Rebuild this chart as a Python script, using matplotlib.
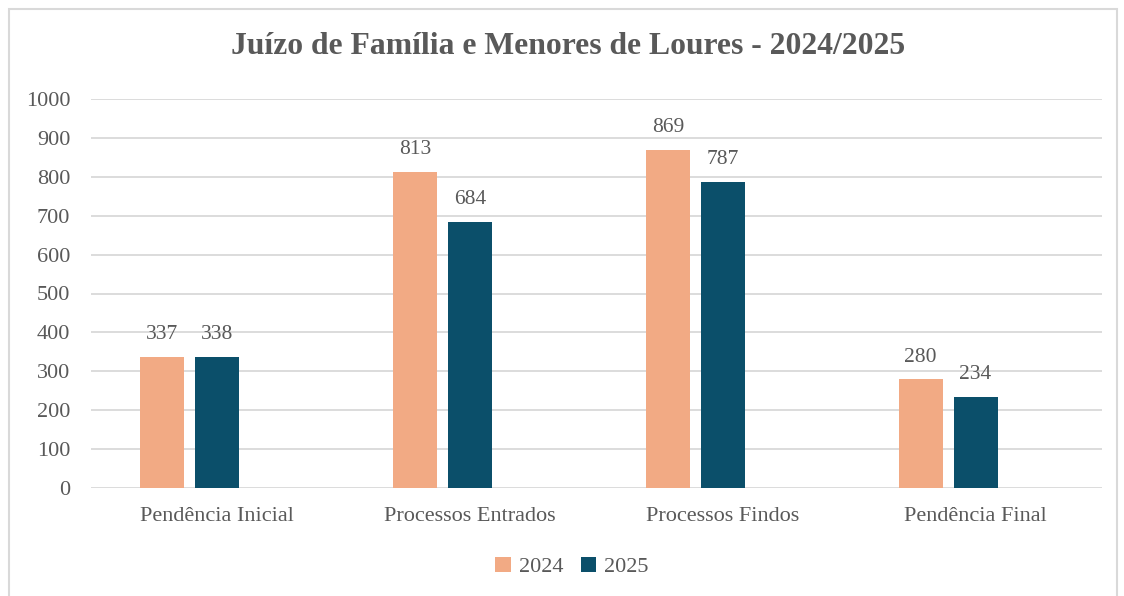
import matplotlib
matplotlib.use("Agg")
import matplotlib.pyplot as plt
from matplotlib.patches import Rectangle
import numpy as np

categories = ["Pendência Inicial", "Processos Entrados", "Processos Findos", "Pendência Final"]
years = ["2024", "2025"]
values_2024 = [337, 813, 869, 280]
values_2025 = [338, 684, 787, 234]
yticks = [0, 100, 200, 300, 400, 500, 600, 700, 800, 900, 1000]

c2024 = "#F2AA84"
c2025 = "#0B4F6A"
txt = "#595959"
grid = "#D9D9D9"

plt.rcParams['font.family'] = ['Liberation Serif', 'DejaVu Serif']

fig = plt.figure(figsize=(11.24, 5.96), dpi=100)
fig.patches.append(Rectangle((9/1124, -0.01), (1117-9)/1124, 1 - 9/596 + 0.01,
                             transform=fig.transFigure, fill=False,
                             edgecolor="#D9D9D9", linewidth=1.5))
ax = fig.add_axes([91/1124, 1 - 488/596, (1102-91)/1124, (488-99)/596])

x = np.arange(len(categories))
step = 55/252.75
w = 44/252.75
b1 = ax.bar(x - step, values_2024, w, color=c2024, label=years[0], zorder=3)
b2 = ax.bar(x, values_2025, w, color=c2025, label=years[1], zorder=3)

for bars in (b1, b2):
    for r in bars:
        ax.annotate(f"{int(r.get_height())}", (r.get_x() + r.get_width()/2, r.get_height()),
                    xytext=(0, 9), textcoords="offset points", ha="center", va="bottom",
                    fontsize=15.5, color=txt)

ax.set_xlim(-0.5, len(categories) - 0.5)
ax.set_ylim(0, 1000)
ax.set_yticks(yticks)
ax.set_xticks(x)
ax.set_xticklabels(categories)
ax.tick_params(axis='both', length=0, labelsize=16, colors=txt)
ax.tick_params(axis='y', pad=15)
ax.tick_params(axis='x', pad=14)
ax.yaxis.grid(True, color=grid, linewidth=1.3, zorder=0)
ax.set_axisbelow(True)
for s in ax.spines.values():
    s.set_visible(False)

fig.text(568/1124, 1 - 47/596, "Juízo de Família e Menores de Loures - 2024/2025",
         ha="center", va="center", fontsize=22.8, fontweight="bold", color=txt)

fig.legend(handles=[b1, b2], labels=years, loc="center", bbox_to_anchor=(572/1124, 1 - 567/596),
           ncol=2, frameon=False, fontsize=16, labelcolor=txt, handlelength=0.7, handleheight=0.7,
           handletextpad=0.35, columnspacing=0.8)

fig.savefig("out.png", dpi=100)
